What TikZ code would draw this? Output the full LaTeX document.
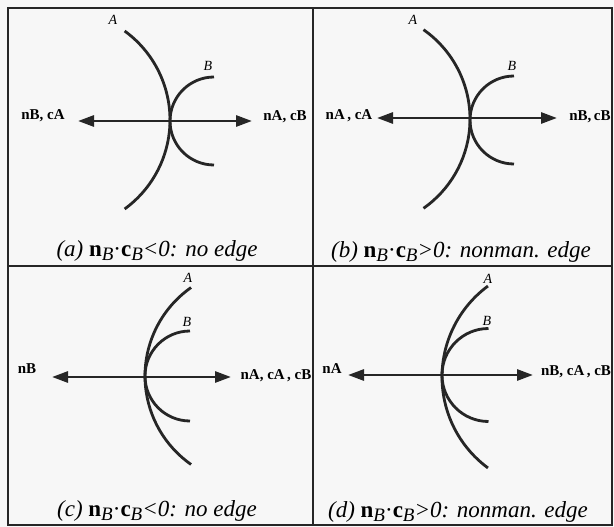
\documentclass[tikz,border=0pt]{standalone}
\usepackage{fontspec}
\setmainfont{Liberation Serif}
\usetikzlibrary{arrows.meta}
\tikzset{
  frame/.style={line width=2pt, draw=black!85},
  curve/.style={line width=2.8pt, draw=black!85},
  axis/.style={line width=2.8pt, draw=black!85, {Triangle[length=16pt,width=11pt]}-{Triangle[length=16pt,width=11pt]}},
  dirlbl/.style={font=\bfseries\fontsize{15}{17}\selectfont, inner sep=1pt},
  curvelbl/.style={font=\itshape\fontsize{14}{16}\selectfont, inner sep=1pt},
  caption/.style={font=\itshape\fontsize{23}{27}\selectfont, inner sep=1pt}
}
\newcommand{\nbcb}{\textup{\textbf{n}}\raisebox{-3.5pt}{\fontsize{19}{22}\selectfont\itshape B}\textup{·}\textup{\textbf{c}}\raisebox{-3.5pt}{\fontsize{19}{22}\selectfont\itshape B}}
\begin{document}
\begin{tikzpicture}[x=1pt,y=-1pt]
\useasboundingbox (0,0) rectangle (614,527);
\fill[black!3] (0,0) rectangle (614,527);
% frame
\draw[frame] (8,8) rectangle (612,525);
\draw[frame] (313,8) -- (313,525);
\draw[frame] (8,266) -- (612,266);

% ---------- panel (a)
\draw[curve] (60,120) ++(-54:110) arc[start angle=-54, end angle=54, radius=110];
\draw[curve] (214,121) ++(270:44) arc[start angle=270, end angle=90, radius=44];
\coordinate (aL) at (78,121);
\coordinate (aR) at (252,121);
\draw[axis] (aL) -- (aR);
\node[curvelbl] (aA) at (113,20) {A};
\node[curvelbl] (aB) at (208,66) {B};
\node[dirlbl] (al) at (43,116) {nB, cA};
\node[dirlbl] (ar) at (285,117) {nA, cB};
\node[caption] (acap) at (157,251) {(a) \nbcb<0: no edge};

% ---------- panel (b)
\draw[curve] (361,119) ++(-55:109) arc[start angle=-55, end angle=55, radius=109];
\draw[curve] (514,120) ++(270:44) arc[start angle=270, end angle=90, radius=44];
\coordinate (bL) at (377,118);
\coordinate (bR) at (557,118);
\draw[axis] (bL) -- (bR);
\node[curvelbl] (bA) at (413,20) {A};
\node[curvelbl] (bB) at (512,66) {B};
\node[dirlbl] (bl) at (349,116) {nA\,, cA};
\node[dirlbl] (br) at (590,117) {nB,\,cB};
\node[caption] (bcap) at (461,252) {(b) \nbcb>0: nonman. edge};

% ---------- panel (c)
\draw[curve] (253,376) ++(235:108) arc[start angle=235, end angle=125, radius=108];
\draw[curve] (190,376) ++(270:45) arc[start angle=270, end angle=90, radius=45];
\coordinate (cL) at (52,377);
\coordinate (cR) at (231,377);
\draw[axis] (cL) -- (cR);
\node[curvelbl] (cA) at (188,278) {A};
\node[curvelbl] (cB) at (187,322) {B};
\node[dirlbl] (cl) at (27,369) {nB};
\node[dirlbl] (cr) at (276,376) {nA, cA\,, cB};
\node[caption] (ccap) at (157,511) {(c) \nbcb<0: no edge};

% ---------- panel (d)
\draw[curve] (555,377) ++(233.6:113) arc[start angle=233.6, end angle=126.4, radius=113];
\draw[curve] (488.5,375) ++(270:46.5) arc[start angle=270, end angle=90, radius=46.5];
\coordinate (dL) at (348,375);
\coordinate (dR) at (533,375);
\draw[axis] (dL) -- (dR);
\node[curvelbl] (dA) at (488,279) {A};
\node[curvelbl] (dB) at (487,321) {B};
\node[dirlbl] (dl) at (332,369) {nA};
\node[dirlbl] (dr) at (576,372) {nB, cA\,, cB};
\node[caption] (dcap) at (458,512) {(d) \nbcb>0: nonman. edge};
\end{tikzpicture}
\end{document}
